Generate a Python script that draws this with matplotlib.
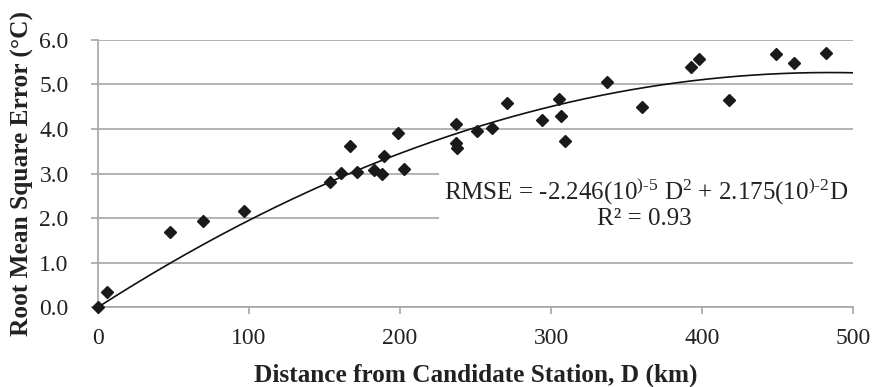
import numpy as np
import matplotlib
matplotlib.use("Agg")
import matplotlib.pyplot as plt
from matplotlib.patches import Rectangle

# Data
distance_km = [0, 5.8, 47.8, 69.9, 96.6, 153.8, 161, 166.6, 171.7, 183.1, 188,
               189.7, 199, 202.5, 237.2, 237.2, 237.9, 250.9, 261, 271, 293.9,
               305.2, 306.3, 309, 337.2, 360.4, 392.4, 397.9, 417.7, 449.1,
               460.8, 482.2]
rmse_c = [0.0, 0.35, 1.68, 1.94, 2.15, 2.80, 3.02, 3.62, 3.04, 3.08, 2.99,
          3.40, 3.92, 3.10, 4.11, 3.69, 3.58, 3.96, 4.03, 4.59, 4.19,
          4.68, 4.28, 3.74, 5.06, 4.49, 5.40, 5.57, 4.64, 5.69,
          5.48, 5.70]
coef_a = -2.246e-5
coef_b = 2.175e-2
x_ticks = [0, 100, 200, 300, 400, 500]
y_ticks = [0.0, 1.0, 2.0, 3.0, 4.0, 5.0, 6.0]

plt.rcParams['font.family'] = ['Liberation Serif', 'DejaVu Serif']
plt.rcParams['mathtext.fontset'] = 'custom'
plt.rcParams['mathtext.rm'] = 'Liberation Serif'
plt.rcParams['mathtext.it'] = 'Liberation Serif:italic'
plt.rcParams['mathtext.bf'] = 'Liberation Serif:bold'

W, H = 874, 387
fig = plt.figure(figsize=(W / 100, H / 100), dpi=100)
ax_l, ax_r, ax_t, ax_b = 97.8, 853.3, 39.8, 307.3
ax = fig.add_axes([ax_l / W, 1 - ax_b / H, (ax_r - ax_l) / W, (ax_b - ax_t) / H])

grid_c = '#a6a6a6'
txt_c = '#222222'
ax.set_xlim(0, 500)
ax.set_ylim(0, 6)
ax.set_xticks(x_ticks)
ax.set_yticks(y_ticks)
ax.set_xticklabels([str(t) for t in x_ticks])
ax.set_yticklabels([f"{t:.1f}" for t in y_ticks])
ax.tick_params(axis='both', colors=grid_c, labelcolor=txt_c,
               length=5, width=1.2, direction='out')
ax.tick_params(axis='x', labelsize=17, pad=10)
ax.tick_params(axis='y', labelsize=17, pad=16)
for s in ['top', 'right']:
    ax.spines[s].set_visible(False)
for s in ['left', 'bottom']:
    ax.spines[s].set_color(grid_c)
    ax.spines[s].set_linewidth(1.2)
ax.yaxis.grid(True, color=grid_c, linewidth=1.2)
ax.set_axisbelow(True)

# white background of the equation box
ax.add_patch(Rectangle((0.451, 0.27), 0.549, 0.33, transform=ax.transAxes,
                       facecolor='white', edgecolor='none', zorder=1.5))

xs = np.linspace(0, 500, 300)
ax.plot(xs, coef_a * xs**2 + coef_b * xs, color='#111111', lw=1.2, zorder=3)
ax.plot(distance_km, rmse_c, linestyle='none', marker='D', ms=6.3,
        color='#1a1a1a', zorder=4, clip_on=False)

hy = '\u2010'
eq1 = (r"RMSE = -2.246(10$^{\mathregular{)" + hy + r"5}}$ D$^{\mathregular{2}}$"
       r" + 2.175(10$^{\mathregular{)" + hy + r"2}}$D")
eq2 = "R\u00b2 = 0.93"
fig.text(646 / W, 1 - 198.5 / H, eq1, ha='center', va='baseline',
         fontsize=18, color=txt_c)
fig.text(644 / W, 1 - 225 / H, eq2, ha='center', va='baseline',
         fontsize=18, color=txt_c)

fig.text(476 / W, 1 - 381.5 / H, "Distance from Candidate Station, D (km)",
         ha='center', va='baseline', fontsize=18.2, fontweight='bold', color=txt_c)
fig.text(22 / W, 1 - 173 / H, "Root Mean Square Error (°C)", rotation=90,
         ha='center', va='center', fontsize=18.3, fontweight='bold', color=txt_c)

fig.savefig("out.png", dpi=100)
